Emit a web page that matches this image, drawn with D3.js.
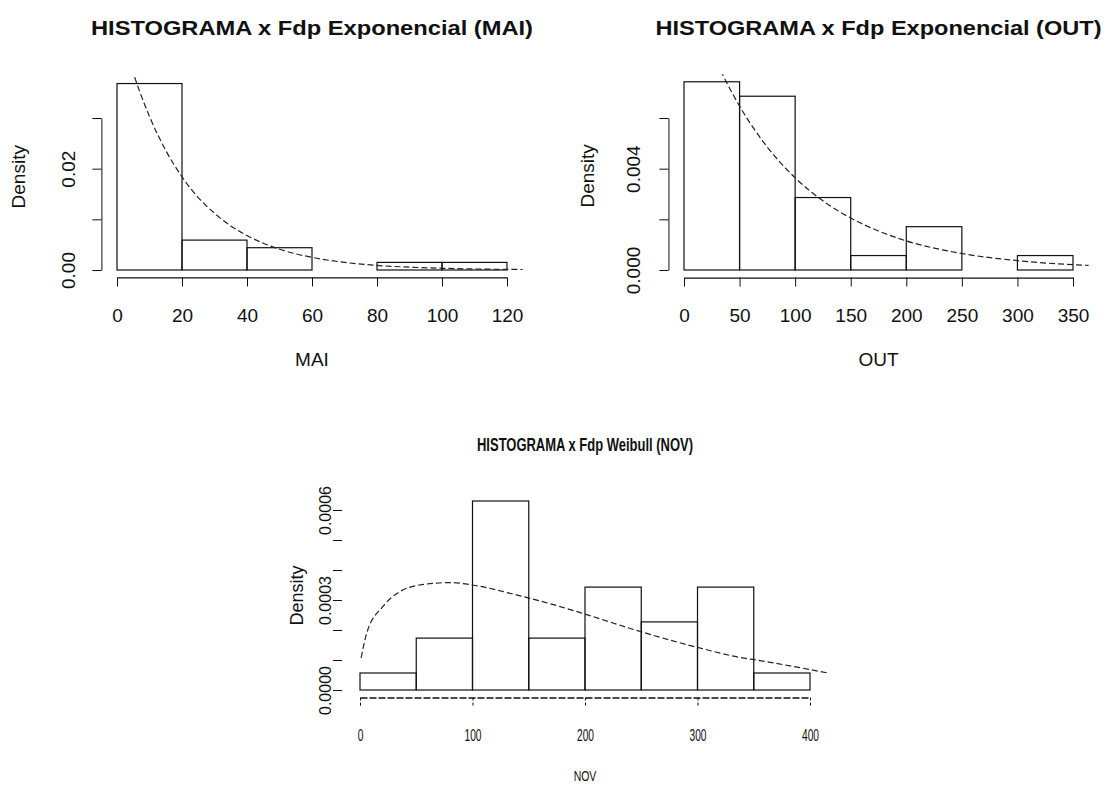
<!DOCTYPE html>
<html>
<head>
<meta charset="utf-8">
<script src="https://cdn.jsdelivr.net/npm/d3@7"></script>
<style>
  body { margin: 0; background: #fff; }
  svg { display: block; }
  text { font-family: "Liberation Sans", Arial, sans-serif; fill: #111; }
</style>
</head>
<body>
<div id="chart"></div>
<script>
// MAI: histogram densities + fitted exponential
const maiBreaks = [0, 20, 40, 60, 80, 100, 120];
const maiDensity = [0.0368, 0.0059, 0.0044, 0, 0.0015, 0.0015];
const maiCurveX = [0, 5, 10, 15, 20, 25, 30, 35, 40, 50, 60, 70, 80, 90, 100, 110, 120, 125];
const maiCurveY = [0.05, 0.0389, 0.0303, 0.0236, 0.0184, 0.0143, 0.0112, 0.0087, 0.0068, 0.0041, 0.0025, 0.0015, 0.0009, 0.00056, 0.00034, 0.0002, 0.00012, 0.0001];
const maiXTicks = [0, 20, 40, 60, 80, 100, 120];
const maiYTicks = [0, 0.01, 0.02, 0.03];
const maiYLabels = ["0.00", "", "0.02", ""];

// OUT
const outBreaks = [0, 50, 100, 150, 200, 250, 300, 350];
const outDensity = [0.00743, 0.00686, 0.00286, 0.00057, 0.00171, 0, 0.00057];
const outCurveX = [0, 25, 50, 75, 100, 125, 150, 175, 200, 250, 300, 350, 365];
const outCurveY = [0.0115, 0.00863, 0.00647, 0.00485, 0.00364, 0.00273, 0.00205, 0.00154, 0.00115, 0.00065, 0.00037, 0.00021, 0.00018];
const outXTicks = [0, 50, 100, 150, 200, 250, 300, 350];
const outYTicks = [0, 0.002, 0.004, 0.006];
const outYLabels = ["0.000", "", "0.004", ""];

// NOV: histogram + fitted Weibull
const novBreaks = [0, 50, 100, 150, 200, 250, 300, 350, 400];
const novDensity = [0.0000567, 0.000173, 0.00063, 0.000173, 0.000343, 0.000227, 0.000343, 0.0000567];
const novCurveX = [1, 6, 20, 35, 53, 80, 100, 139, 178, 200, 250, 300, 340, 352, 416];
const novCurveY = [0.000107, 0.00019, 0.000277, 0.000327, 0.00035, 0.000358, 0.00035, 0.000317, 0.000278, 0.000253, 0.000194, 0.000142, 0.000107, 0.0001, 0.0000567];
const novXTicks = [0, 100, 200, 300, 400];
const novYTicks = [0, 0.0001, 0.0002, 0.0003, 0.0004, 0.0005, 0.0006];
const novYLabels = ["0.0000", "", "", "0.0003", "", "", "0.0006"];

const svg = d3.select("#chart").append("svg")
  .attr("width", 1106)
  .attr("height", 787);

function drawPanel(p) {
  const x = d3.scaleLinear().domain(p.xDomain).range(p.xRange);
  const y = d3.scaleLinear().domain(p.yDomain).range(p.yRange);

  // R style usr region: data range extended by 4%
  const lo = p.breaks[0], hi = p.breaks[p.breaks.length - 1];
  const ymax = d3.max(p.density);
  const ux0 = x(lo - 0.04 * (hi - lo)), ux1 = x(hi + 0.04 * (hi - lo));
  const uy0 = y(-0.04 * ymax), uy1 = y(ymax * 1.04);

  const g = svg.append("g");

  // bars
  const bins = p.density.map((d, i) => ({ x0: p.breaks[i], x1: p.breaks[i + 1], d }));
  g.selectAll("rect.bar")
    .data(bins)
    .enter().append("rect")
    .attr("class", "bar")
    .attr("x", d => x(d.x0))
    .attr("y", d => y(d.d))
    .attr("width", d => x(d.x1) - x(d.x0))
    .attr("height", d => y(0) - y(d.d))
    .attr("fill", "none")
    .attr("stroke", "#111")
    .attr("stroke-width", 1.2);

  // fitted curve, clipped to the plot region
  const clipId = "clip-" + p.id;
  svg.append("clipPath").attr("id", clipId)
    .append("rect")
    .attr("x", ux0).attr("y", uy1)
    .attr("width", ux1 - ux0).attr("height", uy0 - uy1);

  const line = d3.line()
    .x((d, i) => x(p.curveX[i]))
    .y(d => y(d))
    .curve(d3.curveMonotoneX);

  g.append("path")
    .attr("clip-path", `url(#${clipId})`)
    .attr("d", line(p.curveY))
    .attr("fill", "none")
    .attr("stroke", "#222")
    .attr("stroke-width", 1.2)
    .attr("stroke-dasharray", "6,3");

  // x axis
  const xa = g.append("g")
    .attr("transform", `translate(0,${uy0})`)
    .call(d3.axisBottom(x).tickValues(p.xTicks).tickSize(p.tick).tickSizeOuter(0).tickPadding(p.xPad));
  xa.select(".domain").attr("stroke", "#111").attr("stroke-width", p.xAxisWidth)
    .attr("stroke-dasharray", p.xAxisDash);
  xa.selectAll(".tick line").attr("stroke", "#111").attr("stroke-dasharray", p.xAxisDash ? "3,2" : null);
  xa.selectAll("text")
    .attr("font-size", p.tickFont)
    .attr("fill", "#111")
    .attr("font-family", "Liberation Sans, Arial, sans-serif");
  if (p.xLabelSquash) {
    xa.selectAll(".tick text").each(function () {
      const t = d3.select(this);
      const yy = +t.attr("y");
      t.attr("y", null).attr("dy", "0.71em")
        .attr("transform", `translate(0,${yy}) scale(${p.xLabelSquash},1)`);
    });
  }

  // y axis with R-like rotated labels
  const ya = g.append("g")
    .attr("transform", `translate(${ux0},0)`)
    .call(d3.axisLeft(y).tickValues(p.yTicks).tickSize(p.tick).tickSizeOuter(0)
      .tickFormat((d, i) => p.yLabels[i]));
  ya.select(".domain").attr("stroke", p.yAxisLine ? "#111" : "none");
  ya.selectAll(".tick line").attr("stroke", "#111");
  ya.selectAll(".tick text")
    .attr("transform", "rotate(-90)")
    .attr("x", 0)
    .attr("y", -p.yLabOff)
    .attr("dy", "0.35em")
    .attr("text-anchor", "middle")
    .attr("font-size", p.yTickFont)
    .attr("fill", "#111")
    .attr("font-family", "Liberation Sans, Arial, sans-serif");

  const cx = (ux0 + ux1) / 2, cy = (uy0 + uy1) / 2;

  // title
  g.append("text")
    .attr("x", cx)
    .attr("y", p.titleY)
    .attr("text-anchor", "middle")
    .attr("font-weight", "bold")
    .attr("font-size", p.titleFont)
    .attr("textLength", p.titleLen)
    .attr("lengthAdjust", "spacingAndGlyphs")
    .text(p.title);

  // x label
  g.append("text")
    .attr("transform", `translate(${cx},${p.xlabY}) scale(${p.xlabSquash},1)`)
    .attr("text-anchor", "middle")
    .attr("font-size", p.xlabFont)
    .text(p.xlab);

  // y label
  g.append("text")
    .attr("transform", `translate(${p.ylabX},${cy}) rotate(-90)`)
    .attr("text-anchor", "middle")
    .attr("dy", "0.35em")
    .attr("font-size", p.ylabFont)
    .text("Density");
}

drawPanel({
  id: "mai", title: "HISTOGRAMA x Fdp Exponencial (MAI)", xlab: "MAI",
  breaks: maiBreaks, density: maiDensity, curveX: maiCurveX, curveY: maiCurveY,
  xTicks: maiXTicks, yTicks: maiYTicks, yLabels: maiYLabels,
  xDomain: [0, 120], xRange: [117, 507], yDomain: [0, 0.03], yRange: [270, 118],
  tick: 9, xPad: 22, tickFont: 19, yTickFont: 19, yLabOff: 33, yAxisLine: true,
  xAxisWidth: 1.2, xAxisDash: null,
  titleY: 35, titleFont: 21, titleLen: 442,
  xlabY: 366, xlabFont: 19, xlabSquash: 1, ylabX: 18, ylabFont: 19
});

drawPanel({
  id: "out", title: "HISTOGRAMA x Fdp Exponencial (OUT)", xlab: "OUT",
  breaks: outBreaks, density: outDensity, curveX: outCurveX, curveY: outCurveY,
  xTicks: outXTicks, yTicks: outYTicks, yLabels: outYLabels,
  xDomain: [0, 350], xRange: [684, 1073], yDomain: [0, 0.006], yRange: [270, 118],
  tick: 9, xPad: 22, tickFont: 19, yTickFont: 19, yLabOff: 35, yAxisLine: true,
  xAxisWidth: 1.2, xAxisDash: null,
  titleY: 35, titleFont: 21, titleLen: 446,
  xlabY: 366, xlabFont: 19, xlabSquash: 1, ylabX: 587, ylabFont: 19
});

drawPanel({
  id: "nov", title: "HISTOGRAMA x Fdp Weibull (NOV)", xlab: "NOV",
  breaks: novBreaks, density: novDensity, curveX: novCurveX, curveY: novCurveY,
  xTicks: novXTicks, yTicks: novYTicks, yLabels: novYLabels,
  xDomain: [0, 400], xRange: [360, 810], yDomain: [0, 0.0006], yRange: [690, 510],
  tick: 9, xPad: 22, tickFont: 17, yTickFont: 16, yLabOff: 17, yAxisLine: false,
  xAxisWidth: 1.6, xAxisDash: "7,2", xLabelSquash: 0.6,
  titleY: 451, titleFont: 19, titleLen: 216,
  xlabY: 781, xlabFont: 15, xlabSquash: 0.7, ylabX: 297, ylabFont: 18
});
</script>
</body>
</html>
